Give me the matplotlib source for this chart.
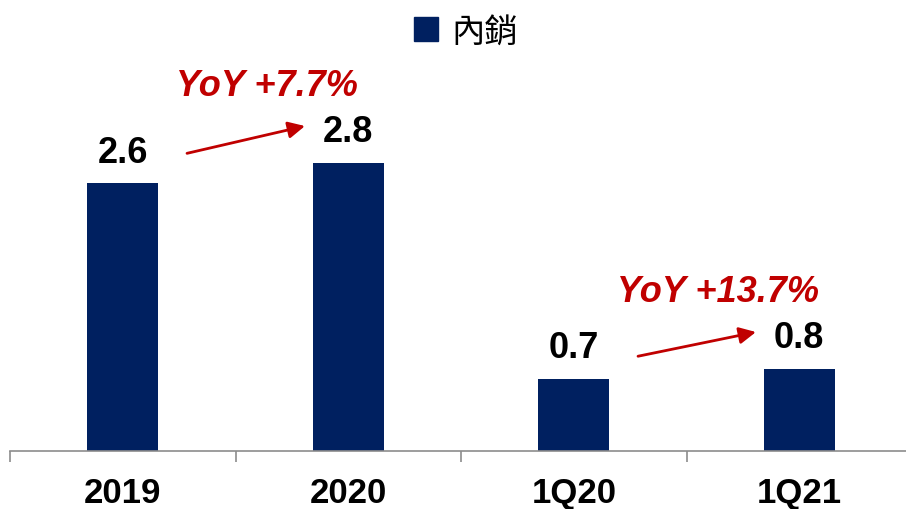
import numpy as np
import matplotlib
matplotlib.use('Agg')
import matplotlib.pyplot as plt
from matplotlib.patches import Patch

categories = ['2019', '2020', '1Q20', '1Q21']
values = [2.6, 2.8, 0.7, 0.8]
value_labels = ['2.6', '2.8', '0.7', '0.8']
series_name = '內銷'
yoy_labels = ['YoY +7.7%', 'YoY +13.7%']
yoy_pairs = [(0, 1), (2, 3)]

navy = '#002060'
red = '#C00000'

plt.rcParams['font.family'] = ['Liberation Sans', 'DejaVu Sans']

fig = plt.figure(figsize=(9.06, 5.10), dpi=100)
ax = fig.add_axes([10 / 906, 1 - 452 / 510, 902 / 906, 452 / 510])

x = np.arange(len(categories))
ax.bar(x, values, width=0.315, color=navy, zorder=2)

ax.set_xlim(-0.5, len(categories) - 0.5)
ax.set_ylim(0, 452 / 103)

# value labels above bars
for xi, v, lab in zip(x, values, value_labels):
    ax.text(xi, v + 0.3, lab, ha='center', va='center', fontsize=26,
            fontweight='bold', color='black')

# YoY arrows and labels
for (a, b), lab in zip(yoy_pairs, yoy_labels):
    va, vb = values[a], values[b]
    start = (a + 0.285, va + 0.29 if a == 0 else va + 0.22)
    end = (b - 0.192, vb + 0.355)
    ax.annotate('', xy=end, xytext=start,
                arrowprops=dict(arrowstyle='-|>', color=red, lw=2,
                                mutation_scale=25, shrinkA=0, shrinkB=0))
    ax.text((a + b) / 2 + 0.14, vb + 0.75, lab, ha='center', va='center',
            fontsize=26, fontweight='bold', fontstyle='italic', color=red)

# axis styling
for s in ['top', 'right', 'left']:
    ax.spines[s].set_visible(False)
ax.spines['bottom'].set_color('#8c8c8c')
ax.spines['bottom'].set_linewidth(1.2)
ax.set_yticks([])
ax.set_xticks(x)
ax.set_xticklabels(categories, fontsize=25, fontweight='bold')
ax.tick_params(axis='x', which='major', length=0, pad=18)
ax.set_xticks(np.arange(-0.5, len(categories) + 0.5, 1), minor=True)
ax.tick_params(axis='x', which='minor', length=8, width=1.2, color='#8c8c8c',
               direction='out')

handle = Patch(facecolor=navy, edgecolor=navy)
leg = fig.legend([handle], [series_name], loc='center', bbox_to_anchor=(466 / 906, 1 - 32 / 510),
                 frameon=False, handlelength=0.7, handleheight=0.7,
                 handletextpad=0.4,
                 prop={'family': ['Noto Sans CJK TC', 'DejaVu Sans'], 'size': 24})

fig.savefig('out.png', dpi=100)
